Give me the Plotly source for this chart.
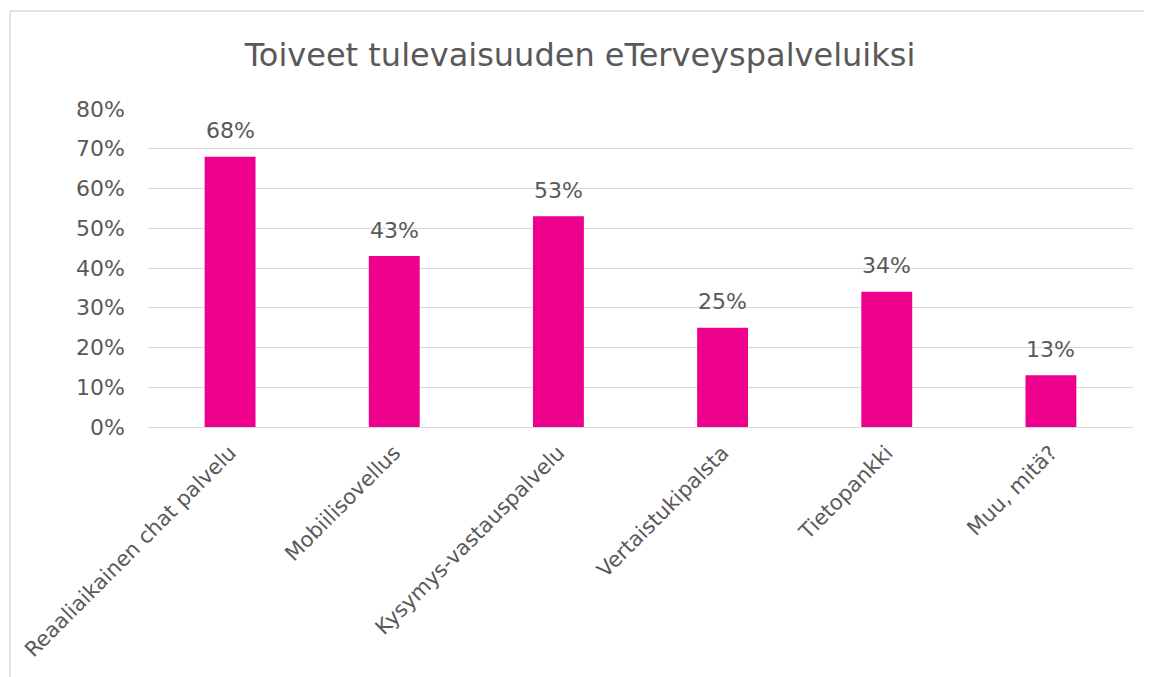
import plotly.graph_objects as go

categories = ["Reaaliaikainen chat palvelu", "Mobiilisovellus", "Kysymys-vastauspalvelu",
              "Vertaistukipalsta", "Tietopankki", "Muu, mitä?"]
values = [0.68, 0.43, 0.53, 0.25, 0.34, 0.13]
labels = [f"{round(v*100)}%" for v in values]

FONT = "DejaVu Sans"
GREY = "#595959"

fig = go.Figure(go.Bar(
    x=categories, y=values,
    marker=dict(color="#EC008C", line=dict(width=0)),
    width=0.31, cliponaxis=False,
))

annotations = [
    dict(x=c, y=v, text=t, xref="x", yref="y", showarrow=False,
         yanchor="middle", yshift=26,
         font=dict(size=22, color=GREY, family=FONT))
    for c, v, t in zip(categories, values, labels)
]

fig.update_layout(
    width=1144, height=669,
    margin=dict(l=140, r=19, t=101, b=250),
    paper_bgcolor="white", plot_bgcolor="white",
    title=dict(text="Toiveet tulevaisuuden eTerveyspalveluiksi",
               font=dict(size=32, color=GREY, family=FONT),
               x=0.5, xanchor="center", y=0.93, yanchor="middle"),
    font=dict(family=FONT, color=GREY),
    showlegend=False,
    annotations=annotations,
    yaxis=dict(range=[0, 0.8], dtick=0.1, tickformat=".0%", automargin=False,
               gridcolor="#D9D9D9", gridwidth=1.3, zeroline=False,
               showline=False, ticks="", ticklabelstandoff=22,
               tickfont=dict(size=22, color=GREY, family=FONT)),
    xaxis=dict(tickangle=-45, showline=True, linecolor="#D9D9D9", linewidth=1.3,
               automargin=False, ticks="", ticklabelstandoff=4,
               tickfont=dict(size=21, color=GREY, family=FONT)),
    shapes=[
        dict(type="line", xref="paper", yref="paper", x0=-0.1401, x1=-0.1401,
             y0=1.308, y1=-0.8, line=dict(color="#D9D9D9", width=1.5)),
        dict(type="line", xref="paper", yref="paper", x0=-0.1401, x1=1.1,
             y0=1.308, y1=1.308, line=dict(color="#D9D9D9", width=1.5)),
    ],
)

fig.write_html("out.html")
